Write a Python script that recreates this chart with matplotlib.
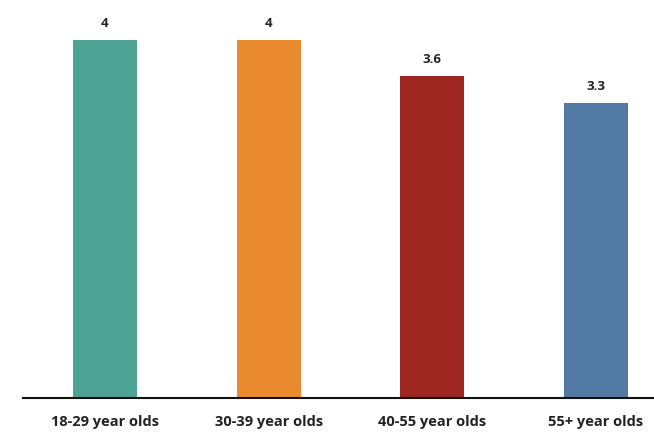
import matplotlib
matplotlib.use("Agg")
import matplotlib.pyplot as plt

# age groups and their values
groups = ["18-29 year olds", "30-39 year olds", "40-55 year olds", "55+ year olds"]
values = [4, 4, 3.6, 3.3]
labels = ["4", "4", "3.6", "3.3"]
colors = ["#4DA393", "#E98A2F", "#9E2620", "#5279A1"]

plt.rcParams['font.family'] = ['Open Sans', 'DejaVu Sans']

fig = plt.figure(figsize=(6.54, 4.34), dpi=100)
ax = fig.add_axes([23 / 654, 36 / 434, 631 / 654, 398 / 434])

x = list(range(len(groups)))
bars = ax.bar(x, values, width=0.39, color=colors)

for b, lab in zip(bars, labels):
    ax.text(b.get_x() + b.get_width() / 2, b.get_height() + 0.11, lab,
            ha='center', va='bottom', fontsize=9.5, fontweight='bold', color='#222222')

ax.set_xlim(-0.5, 3.354)
ax.set_ylim(0, 4.447)
ax.set_xticks(x)
ax.set_xticklabels(groups, fontsize=10.5, fontweight='bold', color='#222222')
ax.tick_params(axis='x', length=0, pad=12)
ax.set_yticks([])
for side in ['top', 'right', 'left']:
    ax.spines[side].set_visible(False)
ax.spines['bottom'].set_linewidth(1.5)
ax.spines['bottom'].set_color('#111111')

fig.savefig("out.png", dpi=100)
